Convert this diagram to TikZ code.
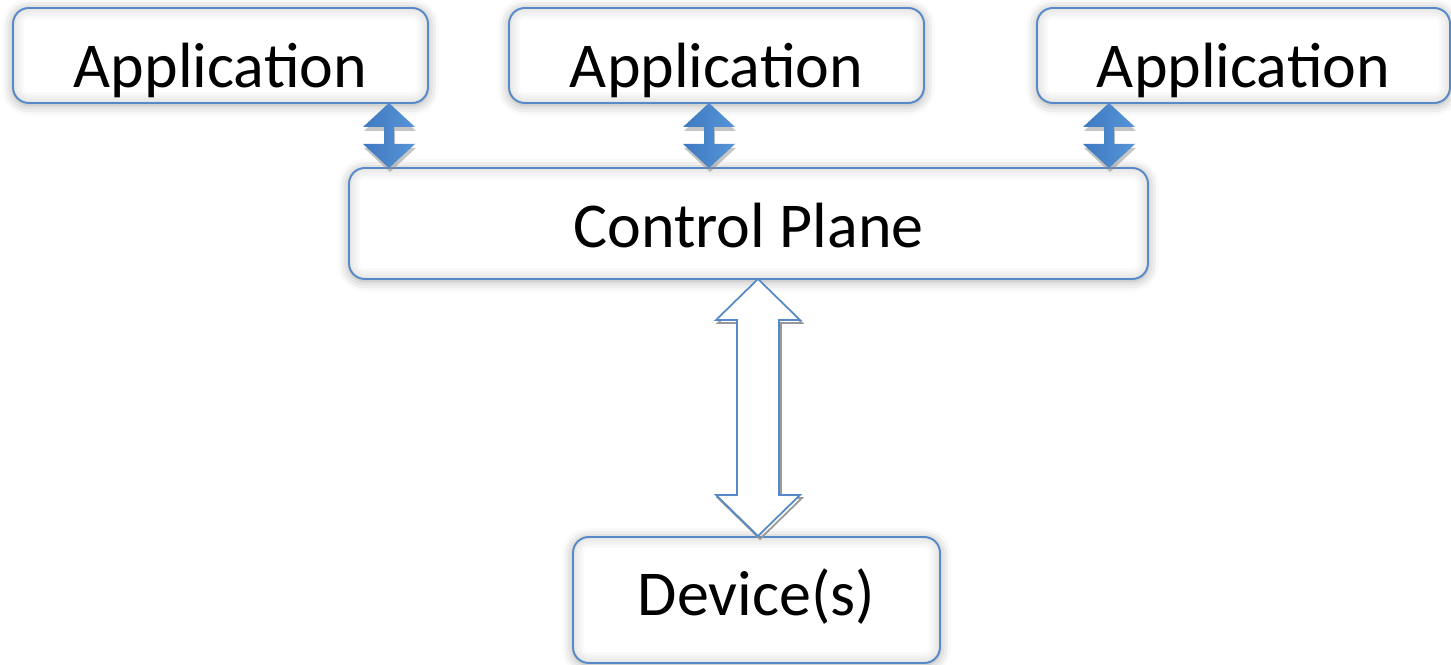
\documentclass[tikz,border=0pt]{standalone}
\usepackage{fontspec}
\setmainfont{Carlito}
\usepackage{xcolor}
\usetikzlibrary{shadows.blur}
\definecolor{boxblue}{RGB}{86,138,199}
\definecolor{arrdark}{RGB}{62,122,193}
\definecolor{arrlight}{RGB}{88,148,214}

\begin{document}
\begin{tikzpicture}[x=0.02cm,y=-0.02cm]
            \tikzset{box/.style = {draw=boxblue, line width=1.1pt, fill=white, rounded corners=9pt,
                inner sep=0pt, outer sep=0pt, text depth=0pt, font=\fontsize{36.4}{40}\selectfont,
                path picture={\foreach \w in {3pt,6pt,9pt,12pt}
                  {\draw[black, opacity=0.025, line width=\w, rounded corners=9pt]
                    (path picture bounding box.south west) rectangle (path picture bounding box.north east);}},
                blur shadow={shadow xshift=0pt, shadow yshift=-1pt, shadow blur radius=6pt, shadow opacity=35}}}
            \tikzset{pics/updown/.style = {code={
                \fill[black!45, opacity=0.5] (1,4) -- (27,28) -- (6,28) -- (6,45) -- (27,45) -- (1,69) -- (-25,45) -- (-4,45) -- (-4,28) -- (-25,28) -- cycle;
                \shade[left color=arrdark, right color=arrlight]
                  (0,0) -- (26,24) -- (5,24) -- (5,41) -- (26,41) -- (0,65) -- (-26,41) -- (-5,41) -- (-5,24) -- (-26,24) -- cycle;}}}
            \tikzset{pics/hollow/.style = {code={
                \draw[black!40, line width=1pt] (2,3) -- (44,44) -- (23,44) -- (23,219) -- (44,219) -- (2,260) -- (-40,219) -- (-19,219) -- (-19,44) -- (-40,44) -- cycle;
                \draw[boxblue, line width=1pt, fill=white]
                  (0,0) -- (42,41) -- (21,41) -- (21,216) -- (42,216) -- (0,257) -- (-42,216) -- (-21,216) -- (-21,41) -- (-42,41) -- cycle;}}}
            \useasboundingbox (0,0) rectangle (1451,665);

            % boxes
            \foreach \n/\x in {app1/220.5, app2/716.5}
            {
              \node[box, minimum width=415*0.02cm, minimum height=95*0.02cm, text height=37pt] (\n) at (\x,55.5) {Application};
            }
            \node[box, minimum width=413*0.02cm, minimum height=95*0.02cm, text height=37pt] (app3) at (1243.5,55.5) {Application};
            \node[box, minimum width=799*0.02cm, minimum height=111*0.02cm, text height=27.8pt] (cp) at (748.5,223.5) {Control Plane};
            \node[box, minimum width=367*0.02cm, minimum height=126*0.02cm, text height=17.6pt] (dev) at (756.5,600) {Device(s)};

            % arrows
            \foreach \a/\x in {app1/389, app2/709, app3/1109} {\pic at (\a.south -| \x,0) {updown};}
            \pic at (cp.south -| 758,0) {hollow};
\end{tikzpicture}
\end{document}
